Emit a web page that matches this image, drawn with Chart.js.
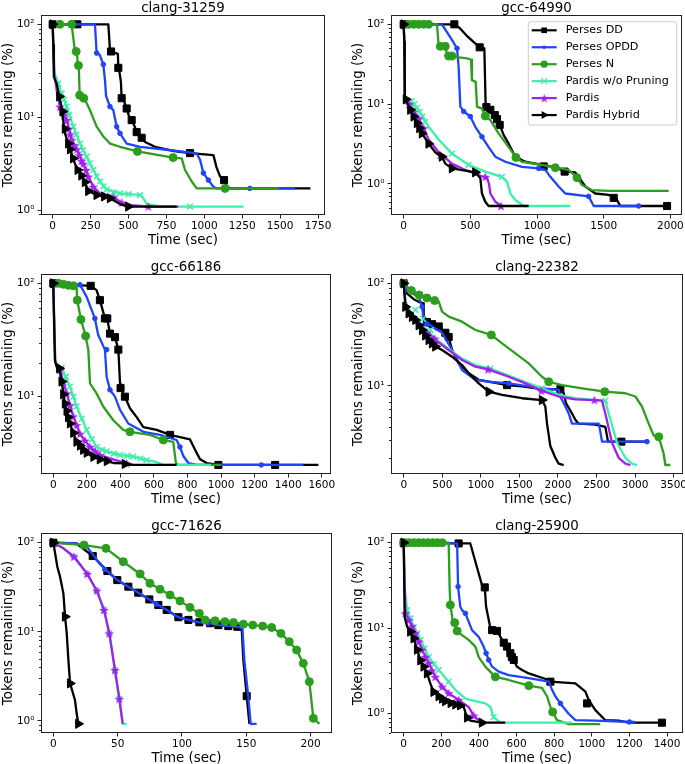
<!DOCTYPE html>
<html><head><meta charset="utf-8">
<script src="https://cdn.jsdelivr.net/npm/chart.js@4.4.1/dist/chart.umd.min.js"></script>
<style>
html,body{margin:0;padding:0;background:#fff;overflow:hidden;width:685px;height:764px;position:relative;}
canvas{display:block;}
</style></head><body>
<script>
// ---------- series ----------
const seriesNames = ['Perses DD','Perses OPDD','Perses N','Pardis w/o Pruning','Pardis','Pardis Hybrid'];
const yMajor = [1, 10, 100];
const yLabels = ['10\u2070', '10\u00B9', '10\u00B2'];

// ---------- clang-31259 ----------
const xTicks_c31259 = [0,250,500,750,1000,1250,1500,1750];
const c31259_DD = [[0,100],[163,100],[367,100],[378,53],[385,51],[430,48],[433,34],[440,31],[450,24],[455,16],[470,15],[488,12.4],[505,10],[521,9.3],[540,8],[554,6.9],[570,6.5],[587,6.0],[609,5.4],[675,4.8],[800,4.3],[906,4.1],[1060,3.9],[1080,2.9],[1104,2.3],[1130,2.1],[1150,1.8],[1170,1.71],[1700,1.71]];
const c31259_DD_m = [[0,100],[163,100],[385,51],[433,34],[455,16],[488,12.4],[521,9.3],[554,6.9],[587,6.0],[906,4.1],[1130,2.1]];
const c31259_OPDD = [[0,100],[279,100],[290,49],[310,47],[334,37],[345,25],[352,17],[378,13],[400,11.9],[422,7.9],[444,6.7],[488,5.2],[576,4.8],[752,4.46],[950,4.07],[972,3.47],[994,2.5],[1027,2.1],[1060,1.78],[1080,1.71],[1599,1.71]];
const c31259_OPDD_m = [[290,49],[334,37],[378,13],[422,7.9],[444,6.7],[994,2.5],[1027,2.1],[1300,1.71]];
const c31259_N = [[0,100],[125,100],[147,51],[160,50],[165,37],[172,36],[178,17.2],[200,16],[213,15.5],[246,11.9],[290,7.9],[334,6.2],[378,5.2],[444,4.8],[559,4.28],[794,3.67],[851,3.6],[873,2.7],[917,2.03],[950,1.71],[1489,1.71]];
const c31259_N_m = [[48,100],[125,100],[155,51],[170,36],[178,17.2],[205,16],[559,4.28],[794,3.67],[1137,1.71]];
const c31259_WOP = [[0,100],[5,60],[12,30],[37,23],[59,18],[92,13],[136,7.9],[180,5.2],[224,3.75],[268,2.7],[312,2.03],[356,1.66],[444,1.51],[576,1.45],[598,1.34],[620,1.16],[664,1.13],[700,1.09],[1258,1.09]];
const c31259_WOP_m = [[37,23],[59,18],[75,15.5],[92,13],[110,10.5],[136,7.9],[155,6.5],[180,5.2],[200,4.4],[224,3.75],[245,3.2],[268,2.7],[290,2.3],[312,2.03],[335,1.8],[356,1.66],[400,1.55],[444,1.51],[500,1.48],[576,1.45],[906,1.09]];
const c31259_PAR = [[0,100],[4,60],[10,30],[30,18],[48,13],[70,11],[92,9.3],[125,5.7],[158,4.5],[202,3.15],[235,2.29],[268,1.78],[312,1.51],[400,1.38],[455,1.2],[521,1.13],[631,1.09],[829,1.09]];
const c31259_PAR_m = [[48,13],[60,12],[75,10.5],[92,9.3],[105,7.5],[115,6.5],[125,5.7],[140,5.0],[158,4.5],[175,3.9],[190,3.4],[202,3.15],[220,2.7],[235,2.29],[268,1.78],[400,1.38],[455,1.2],[631,1.09]];
const c31259_HYB = [[0,100],[4,60],[8,27],[26,23],[44,16.7],[62,12],[70,9],[81,6.7],[103,5.2],[125,4.07],[147,3.15],[180,2.49],[213,2.0],[235,1.6],[290,1.45],[378,1.34],[444,1.16],[499,1.09],[818,1.09]];
const c31259_HYB_m = [[0,100],[44,16.7],[66,11.5],[81,7.5],[103,5.2],[115,4.5],[135,3.6],[165,2.7],[190,2.35],[213,2.0],[235,1.6],[290,1.45],[340,1.4],[378,1.34],[499,1.09]];

// ---------- gcc-64990 ----------
const xTicks_g64990 = [0,500,1000,1500,2000];
const g64990_DD = [[0,100],[375,100],[420,90],[480,70],[563,52.5],[605,50],[615,9.1],[640,8.8],[683,7.3],[700,6.5],[720,5.5],[750,4.1],[787,3.2],[837,2.2],[912,1.9],[1037,1.73],[1150,1.6],[1207,1.43],[1287,1.4],[1337,1.07],[1362,0.93],[1437,0.76],[1537,0.73],[1590,0.67],[1625,0.53],[1975,0.53]];
const g64990_DD_m = [[0,100],[380,100],[570,51.5],[620,9.2],[650,8.5],[683,7.3],[700,6.5],[720,5.5],[1050,1.66],[1207,1.43],[1575,0.67],[1975,0.53]];
const g64990_OPDD = [[0,100],[287,100],[362,63.7],[400,50],[412,29.6],[425,9.3],[450,8.1],[500,7.0],[537,5.2],[587,3.9],[637,2.9],[687,2.2],[762,1.9],[887,1.64],[1012,1.57],[1062,1.5],[1100,1.23],[1162,0.93],[1212,0.76],[1387,0.7],[1425,0.53],[1762,0.53]];
const g64990_OPDD_m = [[400,50],[450,8.1],[500,7.0],[587,3.9],[1012,1.57],[1387,0.7],[1762,0.53]];
const g64990_N = [[0,100],[250,100],[262,55],[312,55],[325,41.5],[400,38.7],[475,37.5],[505,36],[512,20],[540,19],[550,9.3],[587,8.8],[612,7.1],[650,6.3],[712,4.3],[787,2.9],[842,2.15],[887,1.9],[1037,1.73],[1137,1.6],[1237,1.5],[1300,1.2],[1337,0.97],[1412,0.84],[1537,0.82],[1987,0.82]];
const g64990_N_m = [[38,100],[75,100],[112,100],[150,100],[187,100],[275,53],[312,53],[337,40],[362,40],[612,7.1],[842,2.15],[1137,1.6],[1300,1.2]];
const g64990_WOP = [[0,100],[5,60],[8,11],[50,10.5],[112,8.5],[187,5.2],[262,3.6],[362,2.4],[487,1.74],[612,1.43],[737,1.23],[775,1.07],[800,0.76],[837,0.63],[887,0.55],[900,0.53],[1250,0.53]];
const g64990_WOP_m = [[60,11],[80,10],[100,9],[120,8],[140,7],[160,6],[362,2.4],[487,1.74],[737,1.23]];
const g64990_PAR = [[0,100],[5,60],[10,11],[50,9.5],[112,6.6],[187,3.6],[262,2.5],[362,1.8],[462,1.5],[587,1.25],[625,1.2],[640,1.0],[650,0.76],[687,0.6],[730,0.53]];
const g64990_PAR_m = [[40,10],[75,8],[112,6.6],[150,5],[275,2.3],[612,1.23],[730,0.53]];
const g64990_HYB = [[0,100],[5,60],[8,11.5],[17,11.3],[37,9.3],[62,7.7],[100,5.8],[137,4.3],[187,3.2],[237,2.5],[287,2.2],[312,1.8],[362,1.57],[537,1.4],[575,1.18],[587,0.76],[612,0.6],[637,0.53],[937,0.53]];
const g64990_HYB_m = [[0,100],[17,11.5],[50,8.5],[75,7],[100,5.8],[118,5],[137,4.3],[187,3.2],[287,2.2],[362,1.57],[537,1.4]];

// ---------- gcc-66186 ----------
const xTicks_g66186 = [0,200,400,600,800,1000,1200,1400,1600];
const g66186_DD = [[0,100],[119,97],[223,95],[258,87],[278,71],[308,49],[322,49],[338,36],[368,33.5],[388,26],[398,13],[401,11.9],[427,10],[457,7.9],[497,6.6],[537,5.4],[616,5.1],[696,4.6],[815,4.2],[845,3.4],[875,2.8],[914,2.6],[984,2.5],[1580,2.5]];
const g66186_DD_m = [[0,100],[223,95],[278,71],[308,49],[322,49],[338,36],[368,33.5],[388,26],[401,11.9],[427,10],[696,4.6],[984,2.5],[1322,2.5]];
const g66186_OPDD = [[0,100],[159,97],[199,76],[248,49],[268,35],[308,26],[318,15],[338,11.5],[368,10],[397,7.7],[447,5.8],[537,4.9],[636,4.6],[735,4.15],[755,3.6],[775,3.0],[805,2.6],[855,2.5],[1491,2.5]];
const g66186_OPDD_m = [[159,97],[248,49],[318,26],[338,11.5],[755,3.6],[1240,2.5]];
const g66186_N = [[0,100],[139,93],[143,71],[165,48],[193,34.3],[209,25.8],[219,13.1],[258,10.7],[298,8.2],[358,6.2],[417,5.1],[457,4.9],[576,4.6],[656,4.15],[715,4.0],[731,2.58],[745,2.5],[1000,2.5]];
const g66186_N_m = [[30,100],[60,98],[90,96],[120,95],[143,71],[165,48],[193,34.3],[457,4.9],[656,4.15]];
const g66186_WOP = [[0,100],[12,20],[50,18],[99,12.3],[139,8.2],[199,5.1],[258,3.6],[318,3.3],[397,3.05],[477,2.96],[556,2.76],[596,2.7],[636,2.58],[656,2.5],[940,2.5]];
const g66186_WOP_m = [[50,18],[75,15],[99,12.3],[120,10],[139,8.2],[170,6.4],[199,5.1],[230,4.2],[258,3.6],[290,3.4],[318,3.3],[360,3.15],[397,3.05],[440,3.0],[477,2.96],[520,2.85],[556,2.76]];
const g66186_PAR = [[0,100],[12,20],[40,17.2],[80,10.7],[119,6.7],[159,4.7],[219,3.6],[278,3.05],[358,2.8],[437,2.58],[477,2.5]];
const g66186_PAR_m = [[40,17.2],[60,13.5],[80,10.7],[100,8.4],[119,6.7],[139,5.6],[159,4.7],[189,4.1],[219,3.6],[250,3.3],[278,3.05],[437,2.58]];
const g66186_HYB = [[0,100],[10,21],[20,18.4],[36,17.8],[50,13.6],[70,8.7],[89,6.6],[109,5.3],[139,4.0],[179,3.4],[219,3.05],[278,2.8],[358,2.6],[427,2.58],[457,2.5],[735,2.5]];
const g66186_HYB_m = [[0,100],[36,17.8],[50,13.6],[60,10.5],[70,8.7],[80,7.5],[89,6.6],[100,5.8],[120,4.8],[139,4.0],[160,3.7],[179,3.4],[200,3.2],[240,2.95],[278,2.8],[320,2.7],[427,2.55]];

// ---------- clang-22382 ----------
const xTicks_c22382 = [0,500,1000,1500,2000,2500,3000,3500];
const c22382_DD = [[0,100],[40,80],[130,70],[194,66],[250,64],[259,47],[367,40],[454,38],[540,33],[583,30],[627,22.4],[713,16.6],[843,13.3],[972,11.5],[1102,11],[1340,10.2],[1534,9.9],[1793,9.3],[2031,9.3],[2074,8.5],[2104,6.8],[2182,5.4],[2225,4.7],[2269,4.3],[2485,4.2],[2614,4.0],[2649,2.87],[3176,2.87]];
const c22382_DD_m = [[0,100],[300,42],[367,40],[454,38],[540,33],[583,30],[1340,10.2],[2031,9.3],[2822,2.87]];
const c22382_OPDD = [[0,100],[40,85],[194,74],[238,59],[259,44],[367,38],[497,33],[627,22.4],[756,14.3],[929,11.5],[1102,11],[1361,10.6],[1793,9.5],[2009,9.2],[2031,7.9],[2096,6.3],[2139,5.4],[2182,4.3],[2528,4.3],[2549,3.6],[2571,2.87],[3154,2.87]];
const c22382_OPDD_m = [[238,59],[300,40],[1361,10.6],[3154,2.87]];
const c22382_N = [[0,100],[43,93],[65,89],[194,77],[324,71.4],[454,66.3],[497,53],[583,47.3],[756,42.3],[929,35.1],[1136,31.4],[1275,26],[1448,20.8],[1620,16.6],[1793,12.3],[1880,11],[2052,10.2],[2312,9.5],[2606,8.8],[2874,8.5],[3003,7.9],[3090,6.3],[3176,4.3],[3241,3.3],[3306,3.2],[3370,2.2],[3392,1.7],[3457,1.7]];
const c22382_N_m = [[0,100],[100,85],[200,77],[300,72],[400,68],[1136,31.4],[1880,11],[2606,8.8],[3306,3.2]];
const c22382_WOP = [[0,100],[25,66],[110,49],[240,39],[410,29],[583,23],[756,18.5],[929,16],[1124,14.8],[1361,12.6],[1577,10.9],[1793,9.5],[2009,8.2],[2225,7.6],[2485,7.3],[2614,7.2],[2657,5.4],[2765,2.8],[2874,2.0],[2960,1.75],[3025,1.7]];
const c22382_WOP_m = [[150,55],[250,45],[350,35],[1124,14.8],[1793,9.5],[2614,7.2]];
const c22382_PAR = [[0,100],[22,64],[108,47],[238,38],[410,28],[583,22.4],[756,17.9],[929,15.4],[1093,14.5],[1361,12.3],[1577,10.6],[1785,9],[2009,7.9],[2225,7.4],[2472,7.3],[2571,7.2],[2614,5.4],[2701,2.8],[2787,2.0],[2874,1.75],[2938,1.7]];
const c22382_PAR_m = [[200,40],[300,33],[400,29],[1093,14.5],[1785,9],[2472,7.3]];
const c22382_HYB = [[0,100],[22,59],[65,51],[151,44],[238,35],[324,28],[410,24.2],[497,22.4],[627,19.3],[756,16],[843,13.3],[972,10.6],[1102,8.8],[1275,8.2],[1534,7.6],[1793,7.3],[1836,6.3],[1858,4.3],[1901,2.6],[1966,2.0],[2009,1.75],[2074,1.7]];
const c22382_HYB_m = [[0,100],[22,59],[65,51],[108,47],[151,44],[195,39],[238,35],[280,31],[324,28],[367,26],[410,24.2],[1102,8.8],[1793,7.3]];

// ---------- gcc-71626 ----------
const xTicks_g71626 = [0,50,100,150,200];
const g71626_DD = [[0,100],[18,98],[30.6,70.9],[42,48.1],[49.7,38.1],[58.3,32.1],[66,27.5],[74.6,23.1],[81.6,20],[88.1,17.6],[97.2,14.6],[105,13.6],[113.5,12.8],[121.8,12.5],[128.3,11.9],[136,11.6],[143,11.4],[146.4,10.9],[147.7,4.8],[150.3,1.9],[152.4,0.93]];
const g71626_DD_m = [[0,100],[30.6,70.9],[42,48.1],[49.7,38.1],[58.3,32.1],[66,27.5],[74.6,23.1],[81.6,20],[88.1,17.6],[97.2,14.6],[105,13.6],[113.5,12.8],[121.8,12.5],[128.3,11.9],[136,11.6],[143,11.4],[150.3,1.9]];
const g71626_OPDD = [[0,100],[18,98],[26,90],[31,73],[36,58],[42,48.1],[49.7,38.1],[58.3,32.1],[66,27.5],[74.6,23.1],[81.6,20],[88.1,17.6],[97.2,14.6],[105,13.6],[113.5,12.8],[121.8,12.5],[128.3,11.9],[136,11.6],[143,11.4],[147,10.9],[148.5,4.8],[151.5,1.9],[153.4,0.93],[158,0.93]];
const g71626_OPDD_m = [[40,50],[80,20.5],[120,12.5]];
const g71626_N = [[0,100],[23.8,94.1],[40.9,86.4],[54.4,61.2],[67.4,44.6],[75.1,35],[82.9,30],[90.7,25.9],[98.5,22.2],[106.2,18.8],[113.5,16.1],[117.9,13.6],[125.7,13.3],[133.4,13],[140,12.7],[147.7,12.2],[155,11.9],[162.7,11.6],[169.7,11.2],[176.9,9.6],[183.4,7.76],[189.1,6.25],[194.3,4.43],[199,2.76],[202.1,1.07],[206.8,0.93]];
const g71626_N_m = [[23.8,94.1],[40.9,86.4],[54.4,61.2],[67.4,44.6],[75.1,35],[82.9,30],[90.7,25.9],[98.5,22.2],[106.2,18.8],[113.5,16.1],[117.9,13.6],[125.7,13.3],[133.4,13],[140,12.7],[147.7,12.2],[155,11.9],[162.7,11.6],[169.7,11.2],[176.9,9.6],[183.4,7.76],[189.1,6.25],[194.3,4.43],[199,2.76],[202.1,1.07]];
const g71626_WOP = [[0,100],[7.8,86.4],[16.1,69.6],[26.4,44.6],[33.7,29],[39.4,17.6],[43.5,9.6],[47.9,3.73],[51.3,1.77],[54,0.93],[57,0.93]];
const g71626_WOP_m = [[16.1,69.6],[26.4,44.6],[33.7,29],[39.4,17.6],[43.5,9.6],[47.9,3.73],[51.3,1.77]];
const g71626_PAR = [[0,100],[7.8,86.4],[16.1,69.6],[26.4,44.6],[33.7,29],[39.4,17.6],[43.5,9.6],[47.9,3.73],[51.3,1.77],[53.9,0.93]];
const g71626_PAR_m = [[16.1,69.6],[26.4,44.6],[33.7,29],[39.4,17.6],[43.5,9.6],[47.9,3.73],[51.3,1.77]];
const g71626_HYB = [[0,100],[3.1,53.8],[5.2,41.6],[7.8,27],[9.1,14.8],[10.4,9.6],[11.7,4.8],[13,2.64],[16.8,1.72],[18.1,1.22],[19.4,0.93]];
const g71626_HYB_m = [[0,100],[9.1,14.8],[13,2.64],[19.4,0.93]];

// ---------- clang-25900 ----------
const xTicks_c25900 = [0,200,400,600,800,1000,1200,1400];
const c25900_DD = [[0,100],[292,98],[354,98],[416,32],[431,30],[438,17.8],[461,10],[470,9.5],[496,9.3],[523,7.3],[532,6.77],[549,6.1],[567,5.1],[585,4.25],[602,3.55],[629,3.24],[665,2.96],[771,2.48],[780,2.37],[913,2.26],[966,1.81],[984,1.44],[1019,1.1],[1072,0.84],[1143,0.83],[1196,0.785],[1391,0.785]];
const c25900_DD_m = [[0,100],[292,98],[431,30],[470,9.5],[496,9.3],[532,6.77],[549,6.1],[567,5.1],[575,4.6],[585,4.25],[780,2.37],[975,1.32],[1373,0.785]];
const c25900_OPDD = [[0,100],[284,98],[289,30.6],[301,17.8],[310,16.3],[328,14.9],[363,9.5],[399,7.9],[425,6.1],[438,5.1],[452,4.25],[470,3.55],[505,3.1],[558,2.83],[665,2.6],[771,2.37],[789,1.9],[806,1.6],[833,1.32],[877,1.0],[913,0.84],[1019,0.83],[1214,0.8],[1230,0.8]];
const c25900_OPDD_m = [[289,30.6],[328,14.9],[438,5.1],[452,4.25],[833,1.32],[1200,0.8]];
const c25900_N = [[0,100],[239,100],[244,30],[248,18.7],[260,12.5],[271,11.6],[284,9.3],[310,8.3],[345,7.3],[381,6.1],[399,4.6],[434,3.55],[487,2.7],[558,2.48],[665,2.13],[735,2.0],[762,1.6],[780,1.2],[792,1.05],[815,0.84],[877,0.757],[1045,0.757]];
const c25900_N_m = [[0,100],[30,100],[55,100],[80,100],[105,100],[130,100],[155,100],[180,100],[205,100],[248,18.7],[271,11.6],[284,9.3],[487,2.7],[665,2.13],[792,1.05]];
const c25900_WOP = [[0,100],[5,30],[18,16.3],[53,10.4],[89,7.3],[133,4.6],[186,3.24],[239,2.37],[275,1.9],[328,1.5],[381,1.4],[434,1.32],[461,1.2],[478,0.91],[514,0.785],[895,0.785]];
const c25900_WOP_m = [[18,16.3],[35,13],[53,10.4],[71,8.7],[89,7.3],[110,5.8],[133,4.6],[160,3.8],[186,3.24],[239,2.37],[478,0.91]];
const c25900_PAR = [[0,100],[5,30],[9,14.9],[27,12.5],[62,8.7],[97,5.6],[133,3.9],[168,2.7],[204,2.07],[239,1.74],[292,1.45],[345,1.2],[372,0.95],[399,0.84],[416,0.785],[425,0.785]];
const c25900_PAR_m = [[9,14.9],[27,12.5],[45,10.5],[62,8.7],[80,7],[97,5.6],[115,4.6],[133,3.9],[150,3.2],[168,2.7],[204,2.07],[239,1.74],[292,1.45],[372,0.95]];
const c25900_HYB = [[0,100],[5,13.6],[18,10.4],[35,9.1],[53,7.6],[71,5.6],[89,4.2],[106,3.55],[124,2.96],[142,2.25],[159,1.8],[186,1.6],[221,1.4],[275,1.28],[319,1.2],[337,0.9],[354,0.83],[416,0.785],[540,0.785]];
const c25900_HYB_m = [[0,100],[35,9.1],[53,7.6],[71,5.6],[89,4.2],[106,3.55],[124,2.96],[159,1.8],[186,1.6],[205,1.5],[221,1.4],[250,1.33],[275,1.28],[300,1.25],[337,0.9],[416,0.785]];

// ---------- styles ----------
const FONT = 'DejaVu Sans';
const STYLE = {
  color: ['#000000','#1f44ff','#2b9f1d','#3cf0a8','#a020f0','#000000'],
  point: ['rect','circle','circle','crossRot','star','triangle'],
  radius: [5,2.3,4,4,4.5,5.3],
  rot: [0,0,0,0,0,90]
};
function makeStar(d, color){
  const c = document.createElement('canvas'); c.width = d; c.height = d;
  const g = c.getContext('2d'); const cx = d/2, cy = d/2 + 0.5, R = d/2, r = R*0.42;
  g.beginPath();
  for (let i=0;i<10;i++){ const a = -Math.PI/2 + i*Math.PI/5; const rr = i%2 ? r : R; g.lineTo(cx+rr*Math.cos(a), cy+rr*Math.sin(a)); }
  g.closePath(); g.fillStyle = color; g.fill(); return c;
}
const starImg = makeStar(10, STYLE.color[4]);
const starImgSmall = makeStar(9, STYLE.color[4]);

const PADL = 45, PADR = 22, PADT = 20, PADB = 35;

const panels = [
  {title:'clang-31259', box:[41,15,325,215], xMin:-77, xMax:1796, xTicks:xTicks_c31259, yMin:0.884, yMax:126,
   lines:[c31259_DD,c31259_OPDD,c31259_N,c31259_WOP,c31259_PAR,c31259_HYB], marks:[c31259_DD_m,c31259_OPDD_m,c31259_N_m,c31259_WOP_m,c31259_PAR_m,c31259_HYB_m]},
  {title:'gcc-64990', box:[391,15,682,215], xMin:-95, xMax:2087, xTicks:xTicks_g64990, yMin:0.409, yMax:130.8, legend:true,
   lines:[g64990_DD,g64990_OPDD,g64990_N,g64990_WOP,g64990_PAR,g64990_HYB], marks:[g64990_DD_m,g64990_OPDD_m,g64990_N_m,g64990_WOP_m,g64990_PAR_m,g64990_HYB_m]},
  {title:'gcc-66186', box:[41,274,331,474], xMin:-73, xMax:1655, xTicks:xTicks_g66186, yMin:2.08, yMax:120.8,
   lines:[g66186_DD,g66186_OPDD,g66186_N,g66186_WOP,g66186_PAR,g66186_HYB], marks:[g66186_DD_m,g66186_OPDD_m,g66186_N_m,g66186_WOP_m,g66186_PAR_m,g66186_HYB_m]},
  {title:'clang-22382', box:[391,274,683,474], xMin:-165, xMax:3621, xTicks:xTicks_c22382, yMin:1.39, yMax:123.2,
   lines:[c22382_DD,c22382_OPDD,c22382_N,c22382_WOP,c22382_PAR,c22382_HYB], marks:[c22382_DD_m,c22382_OPDD_m,c22382_N_m,c22382_WOP_m,c22382_PAR_m,c22382_HYB_m]},
  {title:'gcc-71626', box:[41,533,332,733], xMin:-9.6, xMax:216.6, xTicks:xTicks_g71626, yMin:0.733, yMax:128.5,
   lines:[g71626_DD,g71626_OPDD,g71626_N,g71626_WOP,g71626_PAR,g71626_HYB], marks:[g71626_DD_m,g71626_OPDD_m,g71626_N_m,g71626_WOP_m,g71626_PAR_m,g71626_HYB_m]},
  {title:'clang-25900', box:[391,533,683,733], xMin:-67.6, xMax:1485, xTicks:xTicks_c25900, yMin:0.595, yMax:129.8,
   lines:[c25900_DD,c25900_OPDD,c25900_N,c25900_WOP,c25900_PAR,c25900_HYB], marks:[c25900_DD_m,c25900_OPDD_m,c25900_N_m,c25900_WOP_m,c25900_PAR_m,c25900_HYB_m]}
];

const framePlugin = {
  id: 'frame',
  afterDatasetsDraw(chart){
    const {ctx, chartArea:a} = chart;
    const ys = chart.scales.y;
    ctx.save();
    ctx.strokeStyle = '#222'; ctx.lineWidth = 1;
    const lo = Math.floor(Math.log10(ys.min)), hi = Math.ceil(Math.log10(ys.max));
    ctx.beginPath();
    for (let k=lo;k<=hi;k++) for (let m=2;m<=9;m++){
      const v = m*Math.pow(10,k); if (v < ys.min || v > ys.max) continue;
      const py = Math.round(ys.getPixelForValue(v)) + 0.5;
      ctx.moveTo(a.left-2, py); ctx.lineTo(a.left, py);
    }
    ctx.stroke();
    ctx.strokeRect(Math.round(a.left)+0.5, Math.round(a.top)+0.5, Math.round(a.right-a.left)-1, Math.round(a.bottom-a.top)-1);
    ctx.restore();
  }
};

function drawLegendMarker(ctx, i, x, y){
  const col = STYLE.color[i];
  ctx.fillStyle = col; ctx.strokeStyle = col; ctx.lineWidth = 1;
  const p = STYLE.point[i];
  if (p === 'rect'){ const s = 2.8; ctx.fillRect(x-s, y-s, 2*s, 2*s); }
  else if (p === 'circle'){ ctx.beginPath(); ctx.arc(x, y, i===1 ? 1.8 : 3.6, 0, 2*Math.PI); ctx.fill(); }
  else if (p === 'crossRot'){ const r = 3; ctx.lineWidth = 1.3; ctx.beginPath(); ctx.moveTo(x-r,y-r); ctx.lineTo(x+r,y+r); ctx.moveTo(x-r,y+r); ctx.lineTo(x+r,y-r); ctx.stroke(); }
  else if (p === 'star'){ ctx.drawImage(starImgSmall, x-4.5, y-4.5); }
  else if (p === 'triangle'){ ctx.beginPath(); ctx.moveTo(x+4.5,y); ctx.lineTo(x-2.5,y-4); ctx.lineTo(x-2.5,y+4); ctx.closePath(); ctx.fill(); }
}

const legendPlugin = {
  id: 'boxLegend',
  afterDraw(chart){
    const {ctx, chartArea:a} = chart;
    const bw = 148.4, bh = 103.3;
    const bx = a.right - 5.3 - bw, by = a.top + 6.7;
    ctx.save();
    ctx.beginPath();
    const r = 2.5;
    ctx.moveTo(bx+r, by); ctx.lineTo(bx+bw-r, by); ctx.arcTo(bx+bw, by, bx+bw, by+r, r);
    ctx.lineTo(bx+bw, by+bh-r); ctx.arcTo(bx+bw, by+bh, bx+bw-r, by+bh, r);
    ctx.lineTo(bx+r, by+bh); ctx.arcTo(bx, by+bh, bx, by+bh-r, r);
    ctx.lineTo(bx, by+r); ctx.arcTo(bx, by, bx+r, by, r); ctx.closePath();
    ctx.fillStyle = 'rgba(255,255,255,0.8)'; ctx.fill();
    ctx.strokeStyle = '#cccccc'; ctx.lineWidth = 1; ctx.stroke();
    ctx.font = '11.2px "' + FONT + '"';
    ctx.textBaseline = 'middle'; ctx.textAlign = 'left';
    for (let i=0;i<6;i++){
      const cy = by + 8.6 + i*16.95;
      ctx.strokeStyle = STYLE.color[i]; ctx.lineWidth = 2.2;
      ctx.beginPath(); ctx.moveTo(bx+3.4, cy); ctx.lineTo(bx+28.4, cy); ctx.stroke();
      drawLegendMarker(ctx, i, bx+15.9, cy);
      ctx.fillStyle = '#000';
      ctx.fillText(seriesNames[i], bx+37.4, cy);
    }
    ctx.restore();
  }
};

function build(p){
  const [L,T,R,B] = p.box;
  const w = R-L+PADL+PADR, h = B-T+PADT+PADB;
  const cv = document.createElement('canvas');
  cv.width = w; cv.height = h;
  cv.style.cssText = 'position:absolute;left:'+(L-PADL)+'px;top:'+(T-PADT)+'px;width:'+w+'px;height:'+h+'px;';
  document.body.appendChild(cv);
  const datasets = [];
  for (let i=0;i<6;i++){
    datasets.push({
      label: seriesNames[i], data: p.lines[i].map(([x,y])=>({x,y})),
      showLine: true, borderColor: STYLE.color[i], backgroundColor: STYLE.color[i], borderWidth: 2.3,
      pointRadius: 0, pointHoverRadius: 0, fill: false, tension: 0, order: 2*(5-i)+1,
      borderJoinStyle: 'round', borderCapStyle: 'butt'
    });
    datasets.push({
      label: seriesNames[i]+' markers', data: p.marks[i].map(([x,y])=>({x,y})),
      showLine: false, pointStyle: STYLE.point[i]==='star' ? starImg : STYLE.point[i],
      pointRadius: STYLE.radius[i], pointHoverRadius: STYLE.radius[i], pointRotation: STYLE.rot[i],
      pointBackgroundColor: STYLE.color[i], pointBorderColor: STYLE.color[i],
      pointBorderWidth: i===3 ? 1.5 : 1, order: 2*(5-i), clip: false
    });
  }
  const tickFont = {family: FONT, size: 10.5};
  new Chart(cv, {
    type: 'scatter',
    data: {datasets},
    options: {
      responsive: false, animation: false, events: [],
      layout: {padding: {left:0, right:PADR, top:0, bottom:0}},
      plugins: {
        legend: {display:false}, tooltip: {enabled:false},
        title: {display:true, text:p.title, fullSize:false, color:'#000',
                font:{family:FONT, size:13.4, weight:'normal', lineHeight:1.0}, padding:{top:6.6, bottom:0}}
      },
      scales: {
        x: {type:'linear', position:'bottom', min:p.xMin, max:p.xMax, bounds:'data',
            afterBuildTicks: s => { s.ticks = p.xTicks.map(v=>({value:v})); },
            afterFit: s => { s.height = PADB; },
            ticks: {autoSkip:false, maxRotation:0, minRotation:0, padding:1, color:'#000', font:tickFont, callback: v => String(v)},
            grid: {display:true, drawOnChartArea:false, drawTicks:true, tickLength:3.5, tickColor:'#222', tickWidth:1},
            border: {display:false},
            title: {display:true, text:'Time (sec)', color:'#000', font:{family:FONT, size:13.4}, padding:{top:0, bottom:1.5}}},
        y: {type:'logarithmic', position:'left', min:p.yMin, max:p.yMax, bounds:'data',
            afterBuildTicks: s => { s.ticks = yMajor.filter(v => v>=p.yMin && v<=p.yMax).map(v=>({value:v})); },
            afterFit: s => { s.width = PADL; },
            ticks: {autoSkip:false, padding:3, color:'#000', font:tickFont, callback: v => yLabels[yMajor.indexOf(v)]},
            grid: {display:true, drawOnChartArea:false, drawTicks:true, tickLength:3.5, tickColor:'#222', tickWidth:1},
            border: {display:false},
            title: {display:true, text:'Tokens remaining (%)', color:'#000', font:{family:FONT, size:13.4}, padding:{top:4, bottom:0}}}
      }
    },
    plugins: p.legend ? [framePlugin, legendPlugin] : [framePlugin]
  });
}
panels.forEach(build);
</script>
</body></html>
